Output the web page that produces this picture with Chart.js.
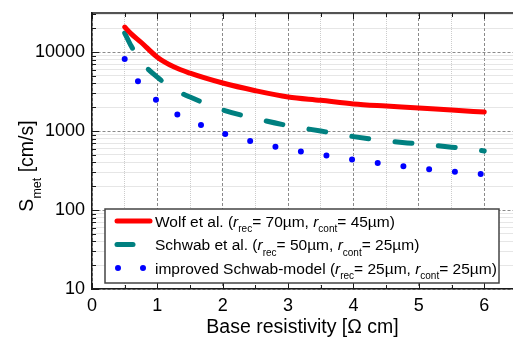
<!DOCTYPE html>
<html>
<head>
<meta charset="utf-8">
<script src="https://cdn.jsdelivr.net/npm/chart.js@4.4.0/dist/chart.umd.min.js"></script>
<style>
  html, body { margin: 0; padding: 0; background: #fff; }
</style>
</head>
<body>
<canvas id="chart" width="513" height="338"></canvas>
<script>
// base resistivity [Ohm cm]
const resistivity = [0.5, 0.6, 0.75, 1, 1.25, 1.5, 2, 2.5, 3, 3.5, 4, 4.5, 5, 5.5, 6];
// S_met [cm/s]
const wolfValues = [20700, 17000, 13300, 8600, 6500, 5400, 4050, 3240, 2700, 2450, 2200, 2070, 1960, 1840, 1740];
const schwabValues = [17400, 11900, 7600, 4800, 3400, 2690, 1850, 1440, 1170, 1000, 850, 750, 685, 624, 560];
const improvedValues = [8150, 5700, 3800, 2400, 1720, 1370, 940, 720, 588, 502, 434, 382, 340, 308, 282];

const xTicks = [0, 0.5, 1, 1.5, 2, 2.5, 3, 3.5, 4, 4.5, 5, 5.5, 6];
const yMajor = [10, 100, 1000, 10000];
const yTicks = [];
yMajor.forEach(d => { for (let k = 1; k <= 9; k++) if (d * k <= 30000) yTicks.push(d * k); });

// legend rows: [text, kind] kind = n normal, i italic, s subscript
const legendRows = [
  [["Wolf et al. (", "n"], ["r", "i"], ["rec", "s"], ["= 70µm, ", "n"], ["r", "i"], ["cont", "s"], ["= 45µm)", "n"]],
  [["Schwab et al. (", "n"], ["r", "i"], ["rec", "s"], ["= 50µm, ", "n"], ["r", "i"], ["cont", "s"], ["= 25µm)", "n"]],
  [["improved Schwab-model (", "n"], ["r", "i"], ["rec", "s"], ["= 25µm, ", "n"], ["r", "i"], ["cont", "s"], ["= 25µm)", "n"]]
];

const FAM = "'Liberation Sans', Arial, sans-serif";
const MAJOR_GRID = "#8a8a8a";
const MINOR_GRID = "#cccccc";

function toPoints(vals) {
  return resistivity.map((x, i) => ({ x: x, y: vals[i] }));
}

function drawRich(ctx, parts, x, y, size, subSize, subDrop) {
  parts.forEach(p => {
    const txt = p[0], kind = p[1];
    let dy = 0;
    if (kind === "s") { ctx.font = subSize + "px " + FAM; dy = subDrop; }
    else if (kind === "i") ctx.font = "italic " + size + "px " + FAM;
    else ctx.font = size + "px " + FAM;
    ctx.fillText(txt, x, y + dy);
    x += ctx.measureText(txt).width;
  });
  return x;
}

function richWidth(ctx, parts, size, subSize) {
  let w = 0;
  parts.forEach(p => {
    if (p[1] === "s") ctx.font = subSize + "px " + FAM;
    else if (p[1] === "i") ctx.font = "italic " + size + "px " + FAM;
    else ctx.font = size + "px " + FAM;
    w += ctx.measureText(p[0]).width;
  });
  return w;
}

const decorPlugin = {
  id: "decor",
  afterDatasetsDraw(chart) {
    const ctx = chart.ctx;
    const a = chart.chartArea;
    const xs = chart.scales.x, ys = chart.scales.y;
    ctx.save();
    ctx.strokeStyle = "#1a1a1a";
    ctx.lineWidth = 1;
    // inward tick marks
    xTicks.forEach(v => {
      const px = Math.round(xs.getPixelForValue(v)) + 0.5;
      const len = Number.isInteger(v) ? 6 : 4;
      ctx.beginPath();
      ctx.moveTo(px, a.bottom); ctx.lineTo(px, a.bottom - len);
      ctx.moveTo(px, a.top); ctx.lineTo(px, a.top + len);
      ctx.stroke();
    });
    yTicks.forEach(v => {
      const py = Math.round(ys.getPixelForValue(v)) + 0.5;
      const len = yMajor.includes(v) ? 7 : 4;
      ctx.beginPath();
      ctx.moveTo(a.left, py); ctx.lineTo(a.left + len, py);
      ctx.stroke();
    });
    // top frame line
    ctx.lineWidth = 1.5;
    ctx.beginPath();
    ctx.moveTo(a.left, a.top); ctx.lineTo(a.right, a.top);
    ctx.stroke();

    // legend box
    const bx = 105, by = 209, bw = 394, bh = 74;
    ctx.fillStyle = "#fff";
    ctx.fillRect(bx, by, bw, bh);
    ctx.strokeStyle = "#444";
    ctx.lineWidth = 1.5;
    ctx.strokeRect(bx, by, bw, bh);

    const baselines = [226.5, 250, 273.5];
    const ds = chart.data.datasets;
    ds.forEach((d, i) => {
      const ly = baselines[i] - 5.5;
      ctx.save();
      ctx.strokeStyle = d.borderColor;
      ctx.lineWidth = d.borderWidth;
      ctx.lineCap = "round";
      ctx.beginPath();
      if (i === 0) { ctx.moveTo(117, ly); ctx.lineTo(150, ly); }
      else if (i === 1) { ctx.moveTo(117, ly); ctx.lineTo(133, ly); }
      else { ctx.moveTo(118, ly); ctx.lineTo(118, ly); ctx.moveTo(143, ly); ctx.lineTo(143, ly); }
      ctx.stroke();
      ctx.restore();
      ctx.fillStyle = "#000";
      ctx.textBaseline = "alphabetic";
      ctx.textAlign = "left";
      drawRich(ctx, legendRows[i], 155, baselines[i], 15.5, 10, 5.5);
    });

    // axis titles
    ctx.fillStyle = "#000";
    ctx.font = "19.5px " + FAM;
    ctx.textAlign = "center";
    ctx.fillText("Base resistivity [\u03A9 cm]", (a.left + a.right) / 2, 333);

    const yTitle = [["S", "n"], ["met", "s"], [" [cm/s]", "n"]];
    ctx.textAlign = "left";
    const w = richWidth(ctx, yTitle, 19.5, 12.5);
    ctx.translate(33, 166);
    ctx.rotate(-Math.PI / 2);
    drawRich(ctx, yTitle, -w / 2, 0, 19.5, 12.5, 8);
    ctx.restore();
  }
};

const tickFont = { family: FAM, size: 18 };

new Chart(document.getElementById("chart").getContext("2d"), {
  type: "line",
  data: {
    datasets: [
      {
        label: "Wolf et al.",
        data: toPoints(wolfValues),
        borderColor: "#ff0000",
        borderWidth: 5,
        borderCapStyle: "round",
        borderJoinStyle: "round",
        pointRadius: 0,
        cubicInterpolationMode: "monotone"
      },
      {
        label: "Schwab et al.",
        data: toPoints(schwabValues),
        borderColor: "#008080",
        borderWidth: 5,
        borderDash: [17, 26.5],
        borderCapStyle: "round",
        borderJoinStyle: "round",
        pointRadius: 0,
        cubicInterpolationMode: "monotone"
      },
      {
        label: "improved Schwab-model",
        data: toPoints(improvedValues),
        borderColor: "#0000ff",
        borderWidth: 6,
        borderDash: [0, 25.9],
        borderCapStyle: "round",
        borderJoinStyle: "round",
        pointRadius: 0,
        cubicInterpolationMode: "monotone"
      }
    ]
  },
  options: {
    responsive: false,
    animation: false,
    layout: { padding: { top: 13, right: 0, bottom: 0, left: 0 } },
    plugins: { legend: { display: false }, tooltip: { enabled: false } },
    scales: {
      x: {
        type: "linear",
        min: 0,
        max: 6.44,
        afterBuildTicks: s => { s.ticks = xTicks.map(v => ({ value: v })); },
        afterFit: s => { s.height = 49; s.paddingLeft = 0; s.paddingRight = 0; },
        ticks: {
          autoSkip: false,
          maxRotation: 0,
          padding: 6.5,
          color: "#000",
          font: tickFont,
          callback: v => Number.isInteger(v) ? String(v) : ""
        },
        grid: {
          drawTicks: false,
          lineWidth: 1,
          color: c => Number.isInteger(c.tick.value) ? MAJOR_GRID : MINOR_GRID
        },
        border: {
          color: "#1a1a1a",
          width: 1.5,
          dash: c => (c.tick && Number.isInteger(c.tick.value)) ? [3, 2] : [1, 1]
        }
      },
      y: {
        type: "logarithmic",
        min: 10,
        max: 31200,
        afterBuildTicks: s => { s.ticks = yTicks.map(v => ({ value: v })); },
        afterFit: s => { s.width = 92; s.paddingTop = 0; s.paddingBottom = 0; },
        ticks: {
          autoSkip: false,
          padding: 7,
          color: "#000",
          font: tickFont,
          callback: v => yMajor.includes(v) ? String(v) : ""
        },
        grid: {
          drawTicks: false,
          lineWidth: 1,
          color: c => yMajor.includes(c.tick.value) ? MAJOR_GRID : MINOR_GRID
        },
        border: {
          color: "#1a1a1a",
          width: 1.5,
          dash: c => (c.tick && yMajor.includes(c.tick.value)) ? [3, 2] : [1, 1]
        }
      }
    }
  },
  plugins: [decorPlugin]
});
</script>
</body>
</html>
